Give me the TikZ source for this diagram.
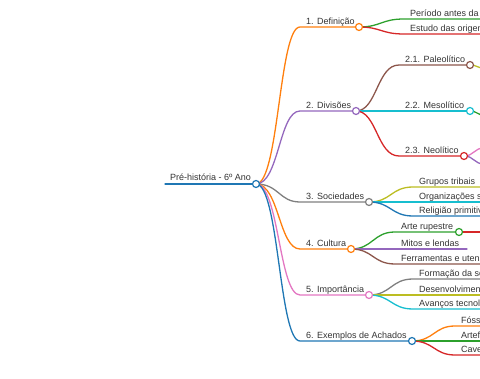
\documentclass[tikz,border=0pt]{standalone}
\usepackage{fontspec}
\setmainfont{Liberation Sans}
\definecolor{cBlue}{HTML}{1F77B4}
\definecolor{cOrange}{HTML}{FF7F0E}
\definecolor{cGreen}{HTML}{2CA02C}
\definecolor{cRed}{HTML}{D62728}
\definecolor{cPurple}{HTML}{9467BD}
\definecolor{cBrown}{HTML}{8C564B}
\definecolor{cPink}{HTML}{E377C2}
\definecolor{cGray}{HTML}{7F7F7F}
\definecolor{cOlive}{HTML}{BCBD22}
\definecolor{cCyan}{HTML}{17BECF}
\definecolor{txt}{HTML}{333333}
\tikzset{
  lbl/.style={anchor=base west, inner sep=0pt, text=txt, font=\fontsize{9}{10}\selectfont},
  dot/.style={circle, draw=#1, fill=white, line width=1.2pt, minimum size=7pt, inner sep=0pt},
  br/.style={draw=#1, line width=1.3pt, line cap=round},
}
\begin{document}
\begin{tikzpicture}[x=1pt,y=-1pt]
\useasboundingbox (0,0) rectangle (480,379);
\clip (0,0) rectangle (480,379);
% ---------- coordinates of circles ----------
\coordinate (r) at (256,184);
\coordinate (c1) at (359,27);
\coordinate (c2) at (356,111);
\coordinate (c3) at (369,202);
\coordinate (c4) at (351,249);
\coordinate (c5) at (369,295);
\coordinate (c6) at (412,341);
\coordinate (c21) at (470,65);
\coordinate (c22) at (470,111);
\coordinate (c23) at (464,156);
\coordinate (c41) at (459,232);
% ---------- root ----------
\coordinate (r0) at (165,184);
\draw[br=cBlue] (r0) -- (r);
\node[lbl] (troot) at (170,181) {Pré-história - 6º Ano};
% ---------- level 1 ----------
\foreach \n/\y/\col in {1/27/cOrange,2/111/cPurple,3/202/cGray,4/249/cOrange,5/295/cPink,6/341/cBlue}{
  \coordinate (s\n) at (300,\y);
  \draw[br=\col] (r) .. controls (279,184) and (279,\y) .. (s\n) -- (c\n);
}
\node[lbl] (t1) at (306,24.5) {1. Definição};
\node[lbl] (t2) at (306,108.5) {2. Divisões};
\node[lbl] (t3) at (306,199.5) {3. Sociedades};
\node[lbl] (t4) at (306,246.5) {4. Cultura};
\node[lbl] (t5) at (306,292.5) {5. Importância};
\node[lbl] (t6) at (306,338.5) {6. Exemplos de Achados};
% ---------- level 2: Definição ----------
\coordinate (s11) at (404,19); \coordinate (e11) at (490,19);
\coordinate (s12) at (404,34); \coordinate (e12) at (490,34);
\draw[br=cGreen] (c1) .. controls (381,27) and (381,19) .. (s11) -- (e11);
\draw[br=cRed] (c1) .. controls (381,27) and (381,34) .. (s12) -- (e12);
\node[lbl] (t11) at (410,16.5) {Período antes da escrita};
\node[lbl] (t12) at (410,31.5) {Estudo das origens};
% ---------- level 2: Divisões ----------
\coordinate (s21) at (399,65);
\coordinate (s22) at (399,111);
\coordinate (s23) at (399,156);
\draw[br=cBrown] (c2) .. controls (377,111) and (377,65) .. (s21) -- (c21);
\draw[br=cCyan] (c2) -- (s22) -- (c22);
\draw[br=cRed] (c2) .. controls (377,111) and (377,156) .. (s23) -- (c23);
\node[lbl] (t21) at (405,62.5) {2.1. Paleolítico};
\node[lbl] (t22) at (405,108.5) {2.2. Mesolítico};
\node[lbl] (t23) at (405,153.5) {2.3. Neolítico};
\coordinate (e21) at (484,68);
\coordinate (e22) at (484,115);
\coordinate (e23a) at (484,148);
\coordinate (e23b) at (484,164);
\draw[br=cOlive] (c21) .. controls (477,65) and (477,68) .. (e21);
\draw[br=cGreen] (c22) .. controls (477,111) and (477,115) .. (e22);
\draw[br=cPink] (c23) .. controls (474,156) and (474,148) .. (e23a);
\draw[br=cPurple] (c23) .. controls (474,156) and (474,164) .. (e23b);
% ---------- level 2: Sociedades ----------
\coordinate (s31) at (413,187); \coordinate (e31) at (490,187);
\coordinate (s32) at (413,202); \coordinate (e32) at (490,202);
\coordinate (s33) at (413,216); \coordinate (e33) at (490,216);
\draw[br=cOlive] (c3) .. controls (391,202) and (391,187) .. (s31) -- (e31);
\draw[br=cCyan] (c3) -- (s32) -- (e32);
\draw[br=cBlue] (c3) .. controls (391,202) and (391,216) .. (s33) -- (e33);
\node[lbl] (t31) at (419,184.5) {Grupos tribais};
\node[lbl] (t32) at (419,199.5) {Organizações sociais};
\node[lbl] (t33) at (419,213.5) {Religião primitiva};
% ---------- level 2: Cultura ----------
\coordinate (s41) at (395,232);
\coordinate (s42) at (395,249); \coordinate (e42) at (467,249);
\coordinate (s43) at (395,264); \coordinate (e43) at (490,264);
\coordinate (e41) at (490,232);
\draw[br=cGreen] (c4) .. controls (373,249) and (373,232) .. (s41) -- (c41);
\draw[br=cRed] (c41) -- (e41);
\draw[br=cPurple] (c4) -- (s42) -- (e42);
\draw[br=cBrown] (c4) .. controls (373,249) and (373,264) .. (s43) -- (e43);
\node[lbl] (t41) at (401,229.5) {Arte rupestre};
\node[lbl] (t42) at (401,246.5) {Mitos e lendas};
\node[lbl] (t43) at (401,261.5) {Ferramentas e utensílios};
% ---------- level 2: Importância ----------
\coordinate (s51) at (413,279); \coordinate (e51) at (490,279);
\coordinate (s52) at (413,295); \coordinate (e52) at (490,295);
\coordinate (s53) at (413,309); \coordinate (e53) at (490,309);
\draw[br=cGray] (c5) .. controls (391,295) and (391,279) .. (s51) -- (e51);
\draw[br=cOlive] (c5) -- (s52) -- (e52);
\draw[br=cCyan] (c5) .. controls (391,295) and (391,309) .. (s53) -- (e53);
\node[lbl] (t51) at (419,276.5) {Formação da sociedade};
\node[lbl] (t52) at (419,292.5) {Desenvolvimento};
\node[lbl] (t53) at (419,306.5) {Avanços tecnológicos};
% ---------- level 2: Exemplos ----------
\coordinate (s61) at (455,326); \coordinate (e61) at (490,326);
\coordinate (s62) at (455,341); \coordinate (e62) at (490,341);
\coordinate (s63) at (455,355); \coordinate (e63) at (490,355);
\draw[br=cOrange] (c6) .. controls (434,341) and (434,326) .. (s61) -- (e61);
\draw[br=cGreen] (c6) -- (s62) -- (e62);
\draw[br=cRed] (c6) .. controls (434,341) and (434,355) .. (s63) -- (e63);
\node[lbl] (t61) at (461,323.5) {Fósseis};
\node[lbl] (t62) at (461,338.5) {Artefatos};
\node[lbl] (t63) at (461,352.5) {Cavernas};
% ---------- circles on top ----------
\node[dot=cBlue] (nr) at (r) {};
\node[dot=cOrange] (n1) at (c1) {};
\node[dot=cPurple] (n2) at (c2) {};
\node[dot=cGray] (n3) at (c3) {};
\node[dot=cOrange] (n4) at (c4) {};
\node[dot=cPink] (n5) at (c5) {};
\node[dot=cBlue] (n6) at (c6) {};
\node[dot=cBrown] (n21) at (c21) {};
\node[dot=cCyan] (n22) at (c22) {};
\node[dot=cRed] (n23) at (c23) {};
\node[dot=cGreen] (n41) at (c41) {};
\end{tikzpicture}
\end{document}
